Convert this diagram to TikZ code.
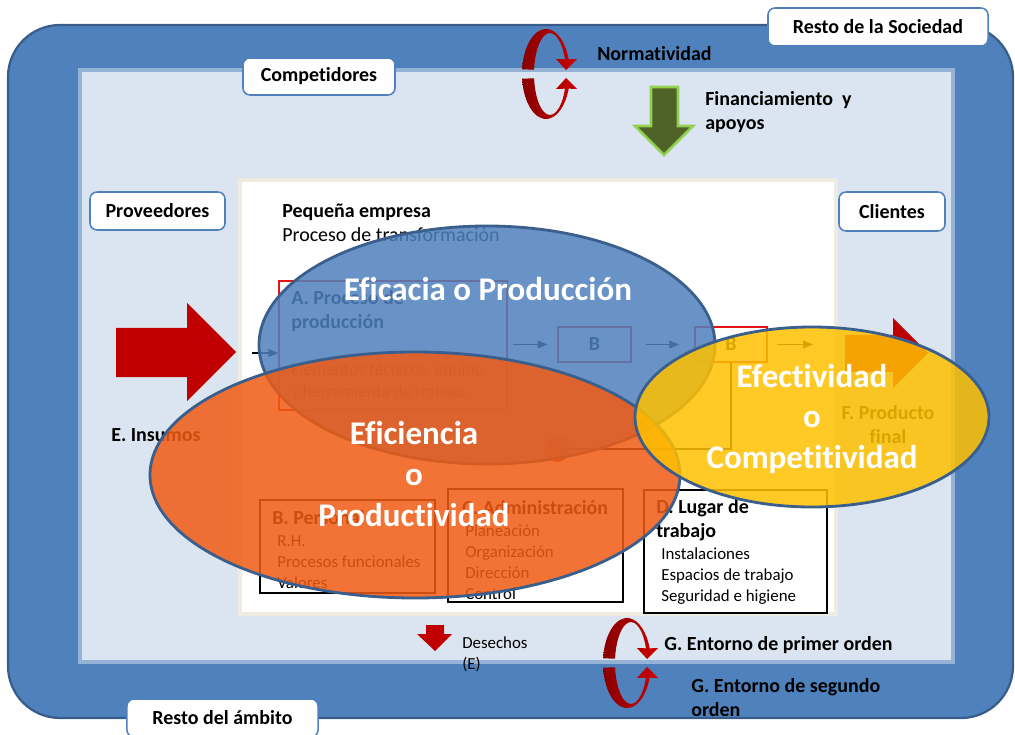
\documentclass[tikz,border=0pt]{standalone}
\usepackage{fontspec}
\setmainfont{Carlito}[Ligatures=NoCommon]
\usetikzlibrary{arrows.meta,calc}
\definecolor{band}{RGB}{79,129,189}
\definecolor{bandline}{RGB}{56,93,138}
\definecolor{light}{RGB}{219,229,241}
\definecolor{lightline}{RGB}{149,179,215}
\definecolor{beige}{RGB}{238,236,225}
\definecolor{arrred}{RGB}{192,0,0}
\definecolor{boxred}{RGB}{228,20,20}
\definecolor{gfill}{RGB}{79,98,40}
\definecolor{gline}{RGB}{146,208,80}
\definecolor{cycdark}{RGB}{135,0,0}
\definecolor{cycred}{RGB}{205,0,0}
\definecolor{eblue}{RGB}{79,129,189}
\definecolor{eorange}{RGB}{241,91,19}
\definecolor{eyellow}{RGB}{255,192,0}
\definecolor{eline}{RGB}{58,95,140}
\definecolor{dotred}{RGB}{185,60,30}
\newcommand\txB{\fontsize{14.2pt}{17pt}\selectfont\bfseries}
\newcommand\txR{\fontsize{14.2pt}{17pt}\selectfont}
\newcommand\txS{\fontsize{12pt}{14.8pt}\selectfont}
\newcommand\txE{\fontsize{12.3pt}{15.6pt}\selectfont}
\newcommand\txBig{\fontsize{23.5pt}{29pt}\selectfont\bfseries}
\tikzset{
  cyc/.pic={
    \foreach \s in {1,-1}{
      \begin{scope}[yscale=\s]
        \shade[left color=cycdark, right color=cycred]
          (-23.87,-4.70) arc[start angle=186,end angle=341,x radius=24,y radius=45]
          -- (31,-15) -- (20,-4) -- (10,-15) -- (18.94,-14.69)
          arc[start angle=339,end angle=186,x radius=16,y radius=41] -- cycle;
      \end{scope}
    }
  }
}
\begin{document}
\begin{tikzpicture}[x=0.025cm,y=-0.025cm,
  lab/.style={draw=band, line width=1.1pt, fill=white, rounded corners=5pt, font=\txB, inner sep=0pt},
  bx/.style={draw=black, line width=1.1pt, inner sep=0pt},
  rbx/.style={draw=boxred, line width=0.9pt, inner sep=0pt},
  tx/.style={inner sep=0pt, anchor=west, align=left},
  flow/.style={-{Triangle[length=7pt,width=5.5pt]}, line width=0.8pt, black},
  ell/.style={draw=eline, line width=2pt, fill opacity=0.85},
  big/.style={text=white, font=\txBig, align=center, inner sep=0pt}
]
\useasboundingbox (0,0) rectangle (1015,735);

% backgrounds
\path[fill=band, draw=bandline, line width=1.6pt, rounded corners=1.3cm] (8,25) rectangle (1013,718);
\path[fill=light, draw=lightline, line width=2.2pt] (80,70) rectangle (953,662);
\path[fill=white, draw=beige, line width=2.2pt] (240,180) rectangle (836,614);

% label boxes
\node[lab, minimum width=5.5cm, minimum height=0.95cm] (soc) at (878,27) {Resto de la Sociedad};
\node[lab, minimum width=3.8cm, minimum height=0.925cm] (comp) at (319,76.5) {Competidores};
\node[lab, minimum width=3.375cm, minimum height=0.95cm] (prov) at (157.5,211) {Proveedores};
\node[lab, minimum width=2.65cm, minimum height=0.975cm] (cli) at (892,211.5) {Clientes};
\node[lab, minimum width=4.775cm, minimum height=0.95cm] (amb) at (222.5,718) {Resto del ámbito};

% top
\pic at (546,74) {cyc};
\node[tx, font=\txB] (norm) at (597,54) {Normatividad};
\path[fill=gfill, draw=gline, line width=2pt, line join=miter] (651,87) -- (678,87) -- (678,126) -- (693,126) -- (664,155) -- (635,126) -- (651,126) -- cycle;
\node[tx, font=\txB] (fin) at (705,112) {Financiamiento\ \ y\\apoyos};

% insumos
\fill[arrred] (116,328) -- (187,328) -- (187,303) -- (236,352) -- (187,401) -- (187,377) -- (116,377) -- cycle;
\node[tx, font=\txB] (ins) at (111,435) {E. Insumos};

% inside
\node[tx, font=\txR] (peq) at (282,223) {\textbf{Pequeña empresa}\\Proceso de transformación};
\node[rbx, minimum width=5.7cm, minimum height=3.225cm] (A) at (393,345.5) {};
\node[tx, font=\txB] (Ah) at (291,311) {A. Proceso de\\producción};
\node[tx, font=\txE] (At) at (291,382) {Elementos técnicos, equipo\\y herramienta de trabajo.};
\node[rbx, minimum width=1.825cm, minimum height=0.875cm, font=\txB] (B1) at (594.5,344.5) {B};
\node[rbx, minimum width=1.8cm, minimum height=0.875cm, font=\txB] (B2) at (731,344.5) {B};
\coordinate (in1) at (252,353);
\draw[flow] (in1) -- (in1 -| A.west);
\draw[flow, shorten <=4pt, shorten >=7pt] (A.east |- B1.west) -- (B1.west);
\draw[flow, shorten <=10pt, shorten >=10.7pt] (B1) -- (B2);
\coordinate (fo) at (813,344.5);
\draw[flow, shorten <=7pt] (B2) -- (fo);
\node[circle, fill=dotred, minimum size=0.65cm, inner sep=0pt] (dot) at (557,449) {};
\draw[line width=0.8pt] (B2.south) |- (dot.east);
\fill[arrred] (845,335) -- (893,335) -- (893,318) -- (928,353) -- (893,388) -- (893,372) -- (845,372) -- cycle;
\node[font=\txB, align=center, inner sep=0pt] (prod) at (888,425) {F. Producto\\final};

\node[bx, minimum width=4.375cm, minimum height=2.325cm] (Bp) at (347.5,546.5) {};
\node[tx, font=\txB] (Bph) at (272,518) {B. Personal};
\node[tx, font=\txS] (Bpt) at (277,562) {R.H.\\Procesos funcionales\\Valores};
\node[bx, minimum width=4.375cm, minimum height=2.825cm] (Ca) at (535.5,545.5) {};
\node[tx, font=\txB] (Cah) at (462,508) {C. Administración};
\node[tx, font=\txS] (Cat) at (465,562) {Planeación\\Organización\\Dirección\\Control};
\node[bx, minimum width=4.575cm, minimum height=3.075cm] (Dl) at (735.5,551.5) {};
\node[tx, font=\txB] (Dlh) at (656,520) {D. Lugar de\\trabajo};
\node[tx, font=\txS] (Dlt) at (661,576) {Instalaciones\\Espacios de trabajo\\Seguridad e higiene};

% bottom
\fill[arrred] (426,625) -- (444,625) -- (444,634) -- (452,634) -- (435,651) -- (417,634) -- (426,634) -- cycle;
\node[tx, font=\txS] (des) at (462,654) {Desechos\\(E)};
\pic at (627,663) {cyc};
\node[tx, font=\txB] (g1) at (664,645) {G. Entorno de primer orden};
\node[tx, font=\txB] (g2) at (691,698) {G. Entorno de segundo\\orden};

% ellipses
\path[ell, fill=eblue] (487,345) ellipse [x radius=228, y radius=119];
\path[ell, fill=eorange] (415,475) ellipse [x radius=265, y radius=123];
\path[ell, fill=eyellow] (812,417) ellipse [x radius=177, y radius=90];
\node[big] (e1) at (488,289) {Eficacia o Producción};
\node[big] (e2) at (414,474) {Eficiencia\\o\\Productividad};
\node[big] (e3) at (812,419) {Efectividad\\o\\Competitividad};
\end{tikzpicture}
\end{document}
